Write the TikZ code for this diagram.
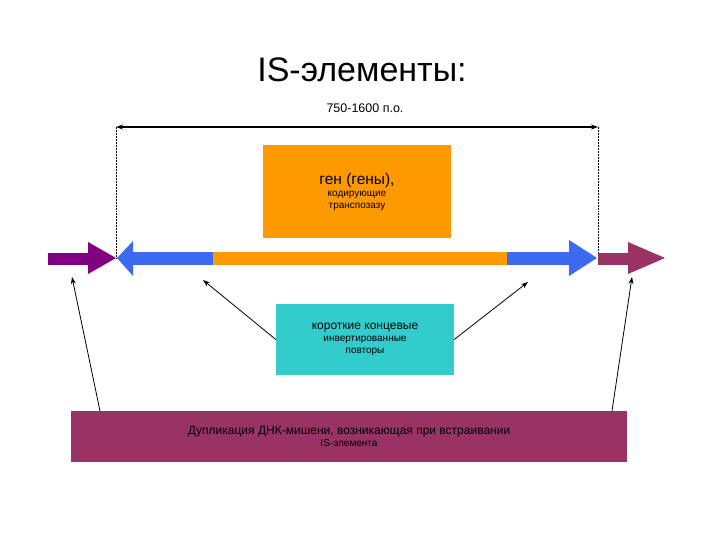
\documentclass[tikz,border=0pt]{standalone}
\usepackage{fontspec}
\setmainfont{Liberation Sans}
\usetikzlibrary{arrows.meta}
\definecolor{purp}{HTML}{800080}
\definecolor{blu}{HTML}{3D6BF0}
\definecolor{org}{HTML}{FF9900}
\definecolor{mar}{HTML}{993366}
\definecolor{cyn}{HTML}{33CCCC}
\begin{document}
\begin{tikzpicture}[x=1pt,y=-1pt,
  box/.style={draw=none,inner sep=0pt,minimum width=#1,align=center},
  ptr/.style={-{Stealth[length=7pt,width=5pt]},line width=0.8pt}]
\useasboundingbox (0,0) rectangle (720,540);
\node (title) at (362,70) {\fontsize{34}{40}\selectfont IS-элементы:};
\node (len) at (365,108) {\fontsize{12.5}{15}\selectfont 750-1600 п.о.};
\coordinate (L) at (116,127); \coordinate (R) at (598,127);
\coordinate (Lb) at (116,258); \coordinate (Rb) at (598,258);
\draw[{Stealth[length=7pt,width=5pt]}-{Stealth[length=7pt,width=5pt]},line width=1.5pt] (L) -- (R);
\draw[densely dotted,line width=0.5pt] (L) -- (Lb) (R) -- (Rb);
\node[fill=org,minimum width=188pt,minimum height=93pt,align=center,inner sep=0pt] (gene) at (357,191.5)
 {\fontsize{15.5}{22}\selectfont ген (гены),\\кодирующие\\транспозазу};
% arrows
\fill[purp] (48,253) rectangle (89,265);
\fill[purp] (88,242) -- (116,258) -- (88,274) -- cycle;
\fill[blu] (133,252) rectangle (214,265);
\fill[blu] (133,241) -- (117,258) -- (133,276) -- cycle;
\fill[org] (213,252) rectangle (507,265);
\fill[blu] (507,252) rectangle (571,265);
\fill[blu] (569,240) -- (597,258) -- (569,276) -- cycle;
\fill[mar] (598,253) rectangle (630,265);
\fill[mar] (628,242) -- (665,258) -- (628,274) -- cycle;
\node[fill=cyn,minimum width=178pt,minimum height=71pt,align=center,inner sep=0pt] (itr) at (365,339.5)
 {\fontsize{12}{16}\selectfont короткие концевые\\инвертированные\\повторы};
\node[fill=mar,minimum width=556pt,minimum height=51pt,align=center,inner sep=0pt] (dup) at (349,436.5)
 {\fontsize{12}{16}\selectfont Дупликация ДНК-мишени, возникающая при встраивании\\IS-элемента};
\coordinate (t1) at (72,277); \coordinate (t2) at (203,280);
\coordinate (t3) at (528,282); \coordinate (t4) at (632,277);
\coordinate (s1) at (100,411); \coordinate (s4) at (612,411);
\draw[ptr] (s1) -- (t1);
\draw[ptr] (s4) -- (t4);
\draw[ptr] (itr.west) -- (t2);
\draw[ptr] (itr.east) -- (t3);
\end{tikzpicture}
\end{document}
